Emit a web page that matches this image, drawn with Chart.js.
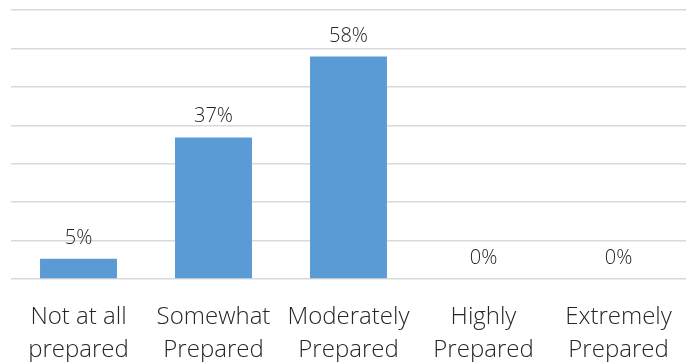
<!DOCTYPE html>
<html>
<head>
<meta charset="utf-8">
<script src="https://cdn.jsdelivr.net/npm/chart.js@4.4.1/dist/chart.umd.min.js"></script>
<style>
  html, body { margin: 0; padding: 0; background: #fff; }
  #wrap { width: 686px; height: 362px; }
</style>
</head>
<body>
<div id="wrap"><canvas id="grafico" width="686" height="362"></canvas></div>
<script>
// categorias y valores (porcentaje de respuestas)
const categorias = [
    ['Not at all', 'prepared'],
    ['Somewhat', 'Prepared'],
    ['Moderately', 'Prepared'],
    ['Highly', 'Prepared'],
    ['Extremely', 'Prepared']
];
const valores = [5.26, 36.84, 57.89, 0, 0];
const etiquetas = ['5%', '37%', '58%', '0%', '0%'];
const ticksY = [0, 10, 20, 30, 40, 50, 60, 70];

const colorTexto = '#262626';
const fuente = "'Open Sans', 'Liberation Sans', sans-serif";

// dibuja el valor encima de cada barra
const etiquetasBarras = {
    id: 'etiquetasBarras',
    afterDatasetsDraw(chart) {
        const ctx = chart.ctx;
        const meta = chart.getDatasetMeta(0);
        ctx.save();
        ctx.fillStyle = colorTexto;
        ctx.font = `300 20px ${fuente}`;
        ctx.textAlign = 'center';
        ctx.textBaseline = 'alphabetic';
        meta.data.forEach((barra, i) => {
            ctx.fillText(etiquetas[i], barra.x, barra.y - 15);
        });
        ctx.restore();
    }
};

const config = {
    type: 'bar',
    data: {
        labels: categorias,
        datasets: [{
            data: valores,
            backgroundColor: '#5b9bd5',
            barPercentage: 0.57,
            categoryPercentage: 1
        }]
    },
    options: {
        responsive: false,
        animation: false,
        layout: { padding: { top: 10, left: 11, right: 0, bottom: 0 } },
        plugins: {
            legend: { display: false },
            tooltip: { enabled: false }
        },
        scales: {
            x: {
                grid: { display: false },
                border: { display: false },
                afterFit: (eje) => { eje.height = 83; },
                ticks: {
                    color: colorTexto,
                    font: { family: fuente, size: 24, weight: 300, lineHeight: 1.375 },
                    padding: 14,
                    maxRotation: 0,
                    autoSkip: false
                }
            },
            y: {
                min: 0,
                max: ticksY[ticksY.length - 1],
                afterBuildTicks: (eje) => { eje.ticks = ticksY.map(v => ({ value: v })); },
                afterFit: (eje) => { eje.width = 0; },
                grid: { color: '#d9d9d9', lineWidth: 1.5, drawTicks: false },
                border: { display: false },
                ticks: { display: false }
            }
        }
    },
    plugins: [etiquetasBarras]
};

new Chart(document.getElementById('grafico'), config);
</script>
</body>
</html>
